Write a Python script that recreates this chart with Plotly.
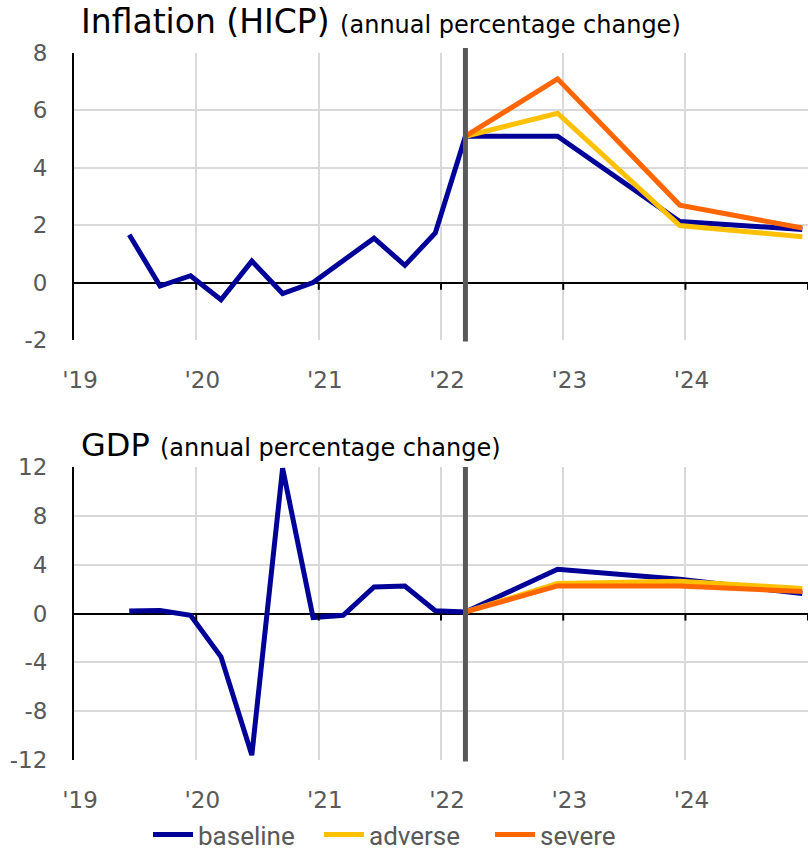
import plotly.graph_objects as go
from plotly.subplots import make_subplots

# Quarterly history, then annual projection points
hist_dates = ["2019-06-15", "2019-09-15", "2019-12-15", "2020-03-15", "2020-06-15",
              "2020-09-15", "2020-12-15", "2021-03-15", "2021-06-15", "2021-09-15",
              "2021-12-15", "2022-03-15"]
proj_dates = ["2022-03-15", "2022-12-15", "2023-12-15", "2024-12-15"]

infl_hist = [1.67, -0.12, 0.24, -0.6, 0.75, -0.38, 0.0, 0.78, 1.55, 0.6, 1.73, 5.1]
infl_baseline = [5.1, 5.1, 2.13, 1.85]
infl_adverse = [5.1, 5.9, 1.99, 1.6]
infl_severe = [5.1, 7.1, 2.7, 1.9]

gdp_hist = [0.2, 0.25, -0.14, -3.55, -11.6, 11.9, -0.33, -0.15, 2.18, 2.25, 0.22, 0.13]
gdp_baseline = [0.13, 3.63, 2.8, 1.63]
gdp_adverse = [0.13, 2.45, 2.65, 2.05]
gdp_severe = [0.13, 2.26, 2.26, 1.8]

infl_ticks = [-2, 0, 2, 4, 6, 8]
gdp_ticks = [-12, -8, -4, 0, 4, 8, 12]
year_ticks = ["2020-01-01", "2021-01-01", "2022-01-01", "2023-01-01", "2024-01-01", "2025-01-01"]
cutoff_date = hist_dates[-1]

C_BASE = "#000099"
C_ADV = "#FFC000"
C_SEV = "#FF6600"
GREY = "#595959"
GRID = "#D9D9D9"

W, H = 808, 859
M_L, M_R, M_T, M_B = 74, 0, 53, 99
PLOT_H = H - M_T - M_B


def py(pix):
    """pixel row -> paper y"""
    return (H - M_B - pix) / PLOT_H


def px(pix):
    """pixel column -> paper x"""
    return (pix - M_L) / (W - M_L - M_R)


top_dom = [py(340), 1.0]
bot_dom = [0.0, py(467)]

fig = make_subplots(rows=2, cols=1, vertical_spacing=0.05)

panels = [
    (1, infl_hist, infl_baseline, infl_adverse, infl_severe),
    (2, gdp_hist, gdp_baseline, gdp_adverse, gdp_severe),
]
for row, hist, base, adv, sev in panels:
    show = row == 1
    fig.add_trace(go.Scatter(x=hist_dates + proj_dates[1:], y=hist + base[1:], mode="lines",
                             line=dict(color=C_BASE, width=5), name="baseline",
                             showlegend=show, legendgroup="b"), row=row, col=1)
    fig.add_trace(go.Scatter(x=proj_dates, y=adv, mode="lines",
                             line=dict(color=C_ADV, width=5), name="adverse",
                             showlegend=show, legendgroup="a"), row=row, col=1)
    fig.add_trace(go.Scatter(x=proj_dates, y=sev, mode="lines",
                             line=dict(color=C_SEV, width=5), name="severe",
                             showlegend=show, legendgroup="s"), row=row, col=1)

tick_font = dict(family="DejaVu Sans", size=23, color=GREY)
fig.update_xaxes(type="date", range=["2019-01-01", "2025-01-01"], dtick="M12",
                 tick0="2019-01-01", tickformat="'%y", showgrid=True, gridcolor=GRID,
                 gridwidth=1.5, showline=False, zeroline=False, ticks="",
                 ticklabelstandoff=24, ticklabelshift=6, tickfont=tick_font)

fig.update_yaxes(showgrid=True, gridcolor=GRID, gridwidth=1.5, zeroline=True,
                 zerolinecolor="black", zerolinewidth=2, showline=True, linecolor="black",
                 linewidth=2, ticks="", ticklabelstandoff=20, tickfont=tick_font)
fig.update_yaxes(range=[-2, 8], tickvals=infl_ticks, ticktext=[str(v) for v in infl_ticks],
                 domain=top_dom, row=1, col=1)
fig.update_yaxes(range=[-12, 12], tickvals=gdp_ticks, ticktext=[str(v) for v in gdp_ticks],
                 domain=bot_dom, row=2, col=1)

# projection cut-off marker and x tick marks on the zero line
shapes = []
for xref, yref, top, tick_len in (("x", "y", 1.017, 0.25), ("x2", "y2", 1.0, 0.58)):
    shapes.append(dict(type="line", xref=xref, yref=yref + " domain", x0=cutoff_date,
                       x1=cutoff_date, y0=-0.005, y1=top,
                       line=dict(color=GREY, width=5), layer="above"))
    for t in year_ticks:
        shapes.append(dict(type="line", xref=xref, yref=yref, x0=t, x1=t, y0=0, y1=-tick_len,
                           line=dict(color="black", width=2), layer="above"))

sub = "<span style='font-size:24px'>(annual percentage change)</span>"
annotations = [
    dict(text="Inflation (HICP) " + sub, xref="paper", yref="paper", x=px(79),
         y=py(22), xanchor="left", yanchor="middle", showarrow=False,
         font=dict(family="DejaVu Sans", size=33, color="black")),
    dict(text="GDP " + sub, xref="paper", yref="paper", x=px(79),
         y=py(445), xanchor="left", yanchor="middle", showarrow=False,
         font=dict(family="DejaVu Sans", size=32, color="black")),
]

fig.update_layout(
    width=W, height=H,
    margin=dict(l=M_L, r=M_R, t=M_T, b=M_B, autoexpand=False),
    paper_bgcolor="white", plot_bgcolor="white",
    shapes=shapes, annotations=annotations,
    legend=dict(orientation="h", x=px(148), xanchor="left",
                y=py(858), yanchor="bottom", entrywidth=116, itemwidth=40,
                font=dict(family="Roboto", size=26, color=GREY)),
)

fig.write_html("out.html")
